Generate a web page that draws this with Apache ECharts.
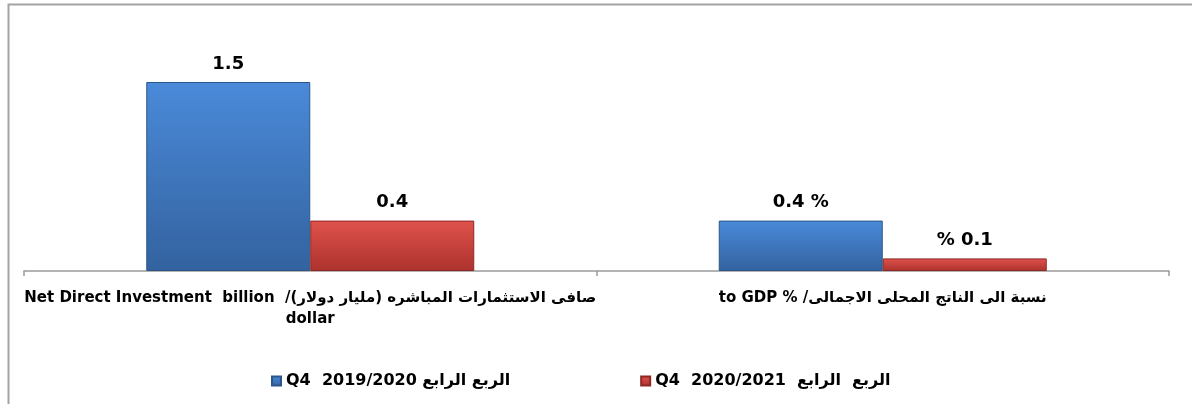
<!DOCTYPE html>
<html>
<head>
<meta charset="utf-8">
<script src="https://cdn.jsdelivr.net/npm/echarts@6/dist/echarts.min.js"></script>
<style>
  html, body { margin: 0; padding: 0; background: #ffffff; }
  #chart { width: 1192px; height: 404px; }
</style>
</head>
<body>
<div id="chart"></div>
<script>
// Category names (Arabic first, English after; shown right-to-left)
const categories = [
  ['صافى الاستثمارات المباشره (مليار دولار)/  Net Direct Investment  billion', 'dollar'],
  ['نسبة الى الناتج المحلى الاجمالى/ % to GDP']
];
const seriesNames = ['Q4  2019/2020 الربع الرابع', 'Q4  2020/2021  الربع  الرابع'];
const q4_2019_2020 = [1.5, 0.4];
const q4_2020_2021 = [0.4, 0.1];

// Wrap each line in a right-to-left embedding so mixed text reads correctly
const RLE = '\u202B', PDF = '\u202C';
const categoryLabels = categories.map(lines => lines.map(l => RLE + l + PDF).join('\n'));

const FONT = '"DejaVu Sans", "Liberation Sans", Arial, sans-serif';

function barFill(top, bottom) {
  return new echarts.graphic.LinearGradient(0, 0, 0, 1, [
    { offset: 0, color: top },
    { offset: 1, color: bottom }
  ]);
}

// Value labels: plain for the amount, with percent sign for the GDP ratio
function labelFor(seriesIndex) {
  return function (p) {
    const v = p.value.toFixed(1);
    if (p.dataIndex === 0) return v;
    return seriesIndex === 0 ? v + ' %' : '% ' + v;
  };
}

const chart = echarts.init(document.getElementById('chart'), null, { renderer: 'canvas' });
chart.setOption({
  animation: false,
  backgroundColor: '#ffffff',
  textStyle: { fontFamily: FONT },
  graphic: [{
    type: 'rect',
    left: 6, top: 2,
    shape: { x: 0, y: 0, width: 1300, height: 500 },
    style: { fill: 'none', stroke: '#a3a3a3', lineWidth: 2 },
    silent: true
  }],
  grid: { left: 24, right: 23, top: 69.4, bottom: 133, containLabel: false },
  legend: {
    top: 368,
    left: 266,
    itemWidth: 9,
    itemHeight: 9,
    itemGap: 130,
    icon: 'rect',
    textStyle: { fontFamily: FONT, fontWeight: 'bold', fontSize: 16, color: '#000' },
    data: seriesNames
  },
  xAxis: {
    type: 'category',
    data: categoryLabels,
    axisLine: { lineStyle: { color: '#9a9a9a', width: 1.5 } },
    axisTick: { show: true, alignWithLabel: false, length: 5, lineStyle: { color: '#9a9a9a', width: 1.5 } },
    axisLabel: {
      interval: 0,
      margin: 17,
      fontFamily: FONT,
      fontWeight: 'bold',
      fontSize: 15,
      lineHeight: 21,
      color: '#000'
    }
  },
  yAxis: {
    type: 'value',
    min: 0,
    max: 1.6,
    show: false,
    splitLine: { show: false }
  },
  series: [
    {
      name: seriesNames[0],
      type: 'bar',
      data: q4_2019_2020,
      barWidth: 164,
      barGap: '0%',
      itemStyle: {
        color: barFill('#4a8ad9', '#33629f'),
        borderColor: '#2c5689',
        borderWidth: 1
      },
      label: {
        show: true, position: 'top', distance: 9,
        formatter: labelFor(0),
        fontFamily: FONT, fontWeight: 'bold', fontSize: 18, color: '#000'
      }
    },
    {
      name: seriesNames[1],
      type: 'bar',
      data: q4_2020_2021,
      barWidth: 164,
      barGap: '0%',
      itemStyle: {
        color: barFill('#e0524c', '#ac322d'),
        borderColor: '#8e2825',
        borderWidth: 1
      },
      label: {
        show: true, position: 'top', distance: 9,
        formatter: labelFor(1),
        fontFamily: FONT, fontWeight: 'bold', fontSize: 18, color: '#000'
      }
    }
  ]
});
</script>
</body>
</html>
